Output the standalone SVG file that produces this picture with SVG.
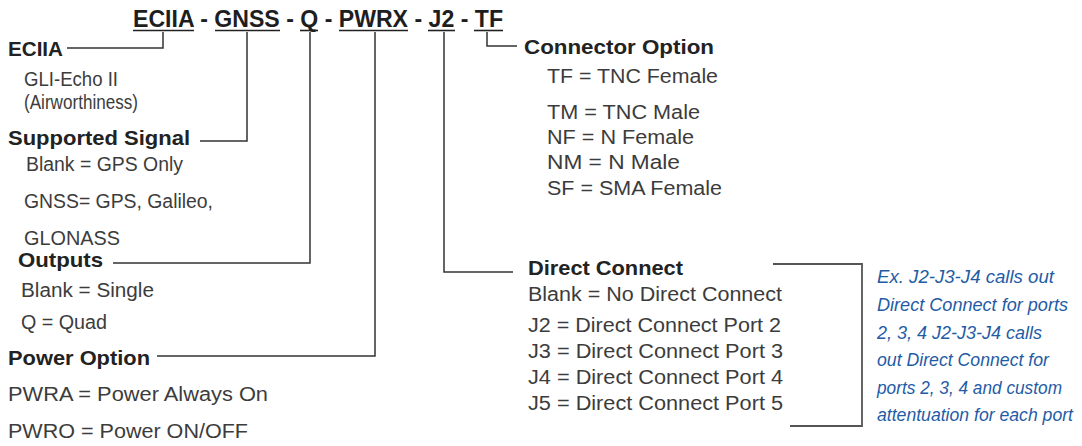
<svg xmlns="http://www.w3.org/2000/svg" width="1082" height="446" viewBox="0 0 1082 446">
<style>
text{font-family:"Liberation Sans",Arial,sans-serif}
.t{font-size:23px;font-weight:bold;fill:#1e1e1e}
.h{font-size:20.5px;font-weight:bold;fill:#222}
.r{font-size:19.5px;fill:#3c3c3c}
.b{font-size:19px;font-style:italic;fill:#1f5ca6}
.ln{fill:none;stroke:#333;stroke-width:1.5}
.ul{stroke:#222;stroke-width:1.6}
.br{fill:none;stroke:#555;stroke-width:1.8}
</style>
<rect width="1082" height="446" fill="#fff"/>
<g id="title">
<text class="t" x="133" y="27" textLength="370" lengthAdjust="spacingAndGlyphs">ECIIA - GNSS - Q - PWRX - J2 - TF</text>
<line class="ul" x1="133" y1="30.5" x2="194" y2="30.5"/>
<line class="ul" x1="215" y1="30.5" x2="280" y2="30.5"/>
<line class="ul" x1="300" y1="30.5" x2="318" y2="30.5"/>
<line class="ul" x1="339" y1="30.5" x2="408" y2="30.5"/>
<line class="ul" x1="428" y1="30.5" x2="455" y2="30.5"/>
<line class="ul" x1="474" y1="30.5" x2="503" y2="30.5"/>
</g>
<g id="connectors">
<polyline class="ln" points="163,32 163,48 67,48"/>
<polyline class="ln" points="247,32 247,141 200,141"/>
<polyline class="ln" points="310,32 310,263 113,263"/>
<polyline class="ln" points="375,32 375,356 157,356"/>
<polyline class="ln" points="444,32 444,272 513,272"/>
<polyline class="ln" points="487,32 487,46 517,46"/>
<polyline class="br" points="773,264 862,264 862,426 790,426"/>
</g>
<g id="eciia">
<text class="h" x="8" y="56" textLength="55" lengthAdjust="spacingAndGlyphs">ECIIA</text>
<text class="r" x="24" y="86" textLength="94" lengthAdjust="spacingAndGlyphs" style="font-size:20px">GLI-Echo II</text>
<text class="r" x="24" y="109" textLength="114" lengthAdjust="spacingAndGlyphs" style="font-size:20px">(Airworthiness)</text>
</g>
<g id="supported-signal">
<text class="h" x="8" y="145" textLength="182" lengthAdjust="spacingAndGlyphs">Supported Signal</text>
<text class="r" x="26" y="171" textLength="157" lengthAdjust="spacingAndGlyphs">Blank = GPS Only</text>
<text class="r" x="24" y="208" textLength="189" lengthAdjust="spacingAndGlyphs">GNSS= GPS, Galileo,</text>
<text class="r" x="24" y="245" textLength="96" lengthAdjust="spacingAndGlyphs">GLONASS</text>
</g>
<g id="outputs">
<text class="h" x="18" y="267" textLength="85" lengthAdjust="spacingAndGlyphs">Outputs</text>
<text class="r" x="21" y="297" textLength="133" lengthAdjust="spacingAndGlyphs">Blank = Single</text>
<text class="r" x="21" y="329" textLength="86" lengthAdjust="spacingAndGlyphs">Q = Quad</text>
</g>
<g id="power-option">
<text class="h" x="8" y="365" textLength="142" lengthAdjust="spacingAndGlyphs">Power Option</text>
<text class="r" x="8" y="401" textLength="260" lengthAdjust="spacingAndGlyphs">PWRA = Power Always On</text>
<text class="r" x="8" y="438" textLength="240" lengthAdjust="spacingAndGlyphs">PWRO = Power ON/OFF</text>
</g>
<g id="connector-option">
<text class="h" x="524" y="54" textLength="190" lengthAdjust="spacingAndGlyphs">Connector Option</text>
<text class="r" x="547" y="83" textLength="171" lengthAdjust="spacingAndGlyphs">TF = TNC Female</text>
<text class="r" x="547" y="119" textLength="153" lengthAdjust="spacingAndGlyphs">TM = TNC Male</text>
<text class="r" x="547" y="144" textLength="147" lengthAdjust="spacingAndGlyphs">NF = N Female</text>
<text class="r" x="547" y="169" textLength="133" lengthAdjust="spacingAndGlyphs">NM = N Male</text>
<text class="r" x="547" y="195" textLength="175" lengthAdjust="spacingAndGlyphs">SF = SMA Female</text>
</g>
<g id="direct-connect">
<text class="h" x="528" y="275" textLength="155" lengthAdjust="spacingAndGlyphs">Direct Connect</text>
<text class="r" x="528" y="301" textLength="254" lengthAdjust="spacingAndGlyphs">Blank = No Direct Connect</text>
<text class="r" x="528" y="332" textLength="253" lengthAdjust="spacingAndGlyphs">J2 = Direct Connect Port 2</text>
<text class="r" x="528" y="358" textLength="255" lengthAdjust="spacingAndGlyphs">J3 = Direct Connect Port 3</text>
<text class="r" x="528" y="384" textLength="255" lengthAdjust="spacingAndGlyphs">J4 = Direct Connect Port 4</text>
<text class="r" x="528" y="410" textLength="255" lengthAdjust="spacingAndGlyphs">J5 = Direct Connect Port 5</text>
</g>
<g id="example-note">
<text class="b" x="877" y="283" textLength="177" lengthAdjust="spacingAndGlyphs">Ex. J2-J3-J4 calls out</text>
<text class="b" x="877" y="311" textLength="191" lengthAdjust="spacingAndGlyphs">Direct Connect for ports</text>
<text class="b" x="877" y="339" textLength="165" lengthAdjust="spacingAndGlyphs">2, 3, 4 J2-J3-J4 calls</text>
<text class="b" x="877" y="366" textLength="172" lengthAdjust="spacingAndGlyphs">out Direct Connect for</text>
<text class="b" x="877" y="394" textLength="185" lengthAdjust="spacingAndGlyphs">ports 2, 3, 4 and custom</text>
<text class="b" x="877" y="421" textLength="196" lengthAdjust="spacingAndGlyphs" style="font-size:18px">attentuation for each port</text>
</g>
</svg>
